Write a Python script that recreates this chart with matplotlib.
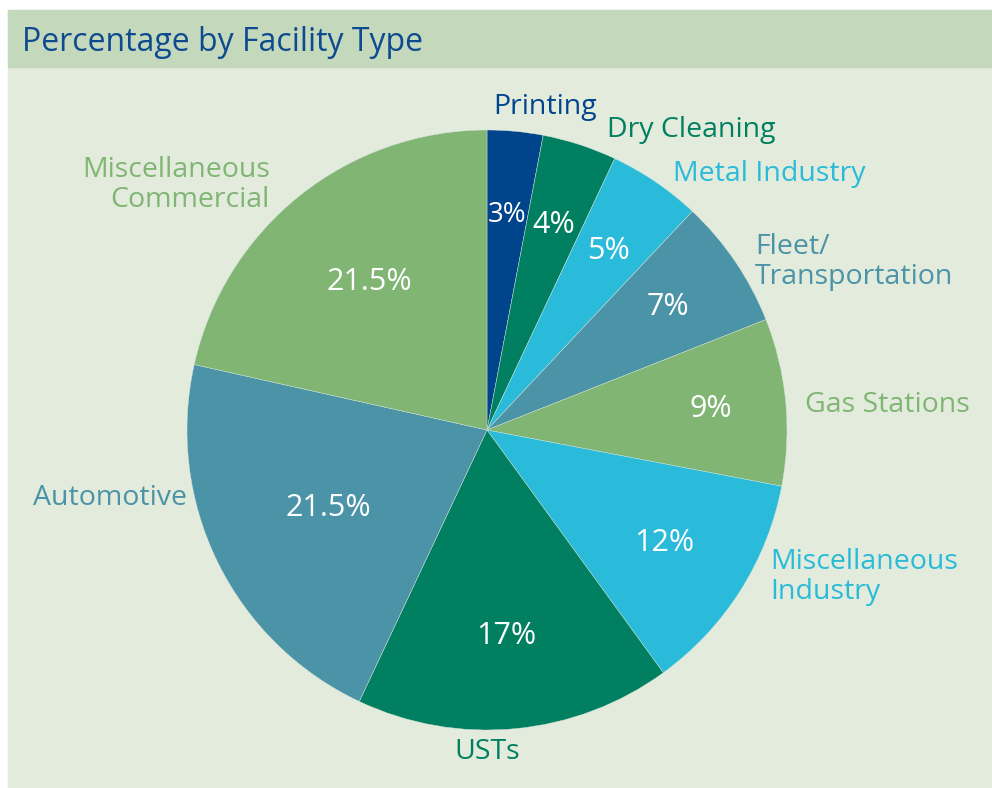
import matplotlib.pyplot as plt
from matplotlib.patches import Rectangle
import numpy as np

plt.rcParams['font.family'] = ['Open Sans', 'DejaVu Sans']

# data
categories = ['Printing', 'Dry Cleaning', 'Metal Industry', 'Fleet/\nTransportation',
              'Gas Stations', 'Miscellaneous\nIndustry', 'USTs', 'Automotive',
              'Miscellaneous\nCommercial']
values = [3, 4, 5, 7, 9, 12, 17, 21.5, 21.5]
pct_labels = ['3%', '4%', '5%', '7%', '9%', '12%', '17%', '21.5%', '21.5%']

colors = ['#00448c', '#008060', '#29bbd9', '#4b93a7', '#80b574',
          '#29bbd9', '#008060', '#4b93a7', '#80b574']

W, H = 992, 788
fig = plt.figure(figsize=(W / 100, H / 100), dpi=100)
fig.patch.set_facecolor('white')
ax = fig.add_axes([0, 0, 1, 1])

# pixel coords, y measured from top
def py(y):
    return H - y

# panel and title band
ax.add_patch(Rectangle((8, py(788)), W - 8, 788 - 10, color='#e2ebdc', zorder=0))
ax.add_patch(Rectangle((8, py(67)), W - 8, 57, color='#c4d9bb', zorder=1))
ax.text(22, py(42), 'Percentage by Facility Type', fontsize=23, color='#0e4a8f',
        ha='left', va='center', zorder=3)

cx, cy, R = 487, py(430), 300
wedges, _ = ax.pie(values, colors=colors, startangle=90, counterclock=False,
                   center=(cx, cy), radius=R, frame=True,
                   wedgeprops=dict(edgecolor='#d8e6dc', linewidth=0.3))
ax.set_xlim(0, W)
ax.set_ylim(0, H)
ax.set_aspect('equal')
ax.axis('off')

# percentage labels inside wedges
pct_dist = [0.72, 0.72, 0.72, 0.73, 0.75, 0.70, 0.69, 0.59, 0.63]
pct_size = [20, 22, 22, 22, 22, 22, 22, 22, 22]
for w, lab, d, s in zip(wedges, pct_labels, pct_dist, pct_size):
    ang = np.deg2rad((w.theta1 + w.theta2) / 2)
    ax.text(cx + d * R * np.cos(ang), cy + d * R * np.sin(ang), lab,
            color='white', fontsize=s, ha='center', va='center', zorder=5)

# category labels outside
label_pos = [(545, 107, 'center'), (607, 130, 'left'), (673, 174, 'left'),
             (755, 262, 'left'), (805, 405, 'left'), (770, 577, 'left'),
             (487, 752, 'center'), (187, 498, 'right'), (270, 185, 'right')]
for cat, (x, y, ha), c in zip(categories, label_pos, colors):
    ax.text(x, py(y), cat, color=c, fontsize=20.5, ha=ha, va='center',
            multialignment=ha, linespacing=1.12, zorder=5)

fig.savefig('out.png', dpi=100, facecolor='white')
